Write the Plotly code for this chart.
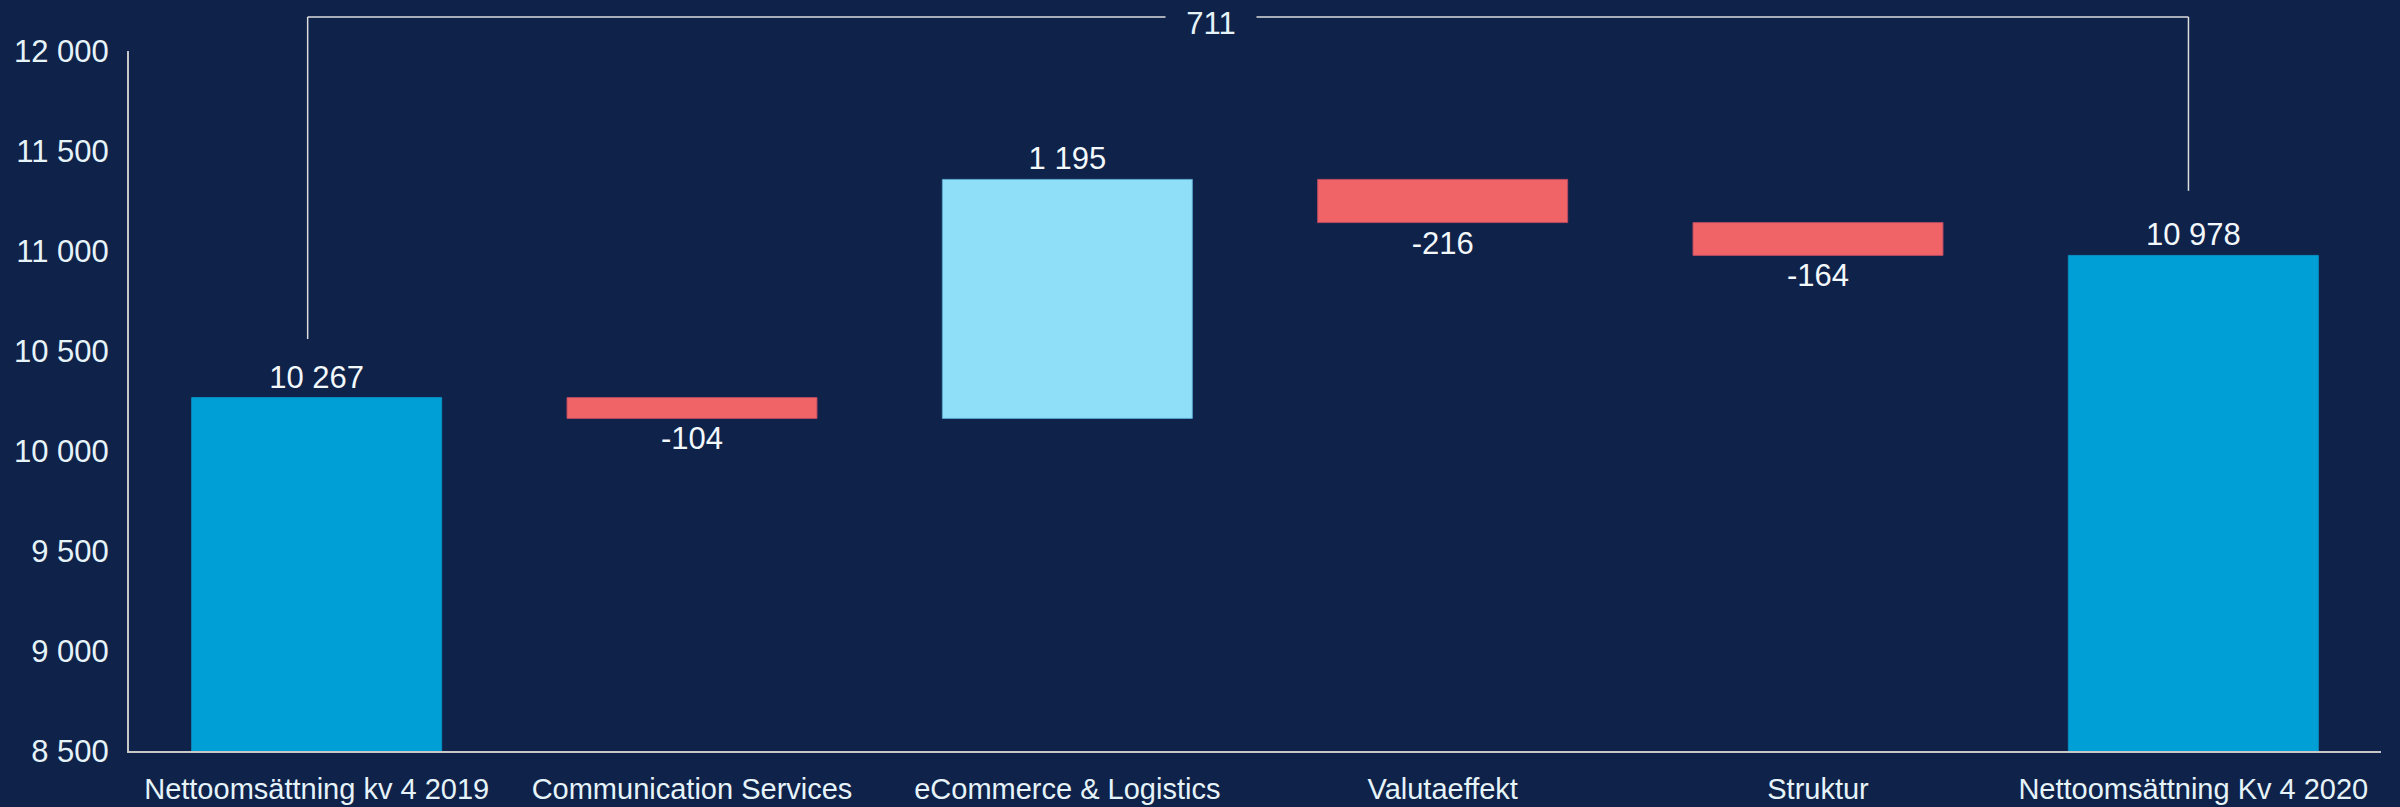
import plotly.graph_objects as go

# data
categories = ["Nettoomsättning kv 4 2019", "Communication Services", "eCommerce & Logistics",
              "Valutaeffekt", "Struktur", "Nettoomsättning Kv 4 2020"]
measures = ["absolute", "relative", "relative", "relative", "relative", "total"]
values = [10267, -104, 1195, -216, -164, 0]
labels = ["10 267", "-104", "1 195", "-216", "-164", "10 978"]
y_ticks = [8500, 9000, 9500, 10000, 10500, 11000, 11500, 12000]
start_total = 10267
end_total = 10978

X_RANGE = [-0.5, 5.5]
Y_RANGE = [8500, 12000]

BG = "#0f2249"
TXT = "#e6f4fa"
FONT = "Liberation Sans, Arial, sans-serif"

fig = go.Figure(go.Waterfall(
    x=categories,
    y=values,
    measure=measures,
    width=0.666,
    text=labels,
    textposition="outside",
    constraintext="none",
    cliponaxis=False,
    textfont=dict(size=31, color="#f2f8fc", family=FONT),
    totals=dict(marker=dict(color="#00a0d6", line=dict(color="#0b8fc2", width=1))),
    increasing=dict(marker=dict(color="#8fdff8", line=dict(color="#5aa6cc", width=1))),
    decreasing=dict(marker=dict(color="#f06468", line=dict(color="#b84a62", width=1))),
    connector=dict(visible=False),
    showlegend=False,
))


def px(xv):
    return (xv - X_RANGE[0]) / (X_RANGE[1] - X_RANGE[0])


def py(yv):
    return (yv - Y_RANGE[0]) / (Y_RANGE[1] - Y_RANGE[0])


# bracket showing the total change between the two quarters
x_left, x_right = px(-0.024), px(4.987)
y_top = 1.0486
y_left, y_right = py(start_total + 293), py(end_total + 323)
line = dict(color="#dcdcdc", width=1.5)
for x0, y0, x1, y1 in [(x_left, y_left, x_left, y_top),
                       (x_left, y_top, x_right, y_top),
                       (x_right, y_top, x_right, y_right)]:
    fig.add_shape(type="line", xref="paper", yref="paper",
                  x0=x0, y0=y0, x1=x1, y1=y1, line=line)

fig.add_annotation(
    x=px(2.384), y=y_top, xref="paper", yref="paper",
    xanchor="center", yanchor="middle", yshift=-7,
    text=f"{end_total - start_total}", showarrow=False,
    font=dict(size=31, color=TXT, family=FONT),
    bgcolor=BG, width=80, borderpad=5,
)

fig.update_layout(
    width=2400, height=807,
    paper_bgcolor=BG, plot_bgcolor=BG,
    font=dict(family=FONT, color=TXT),
    separators=", ",
    margin=dict(l=129, r=19, t=51, b=56),
    xaxis=dict(
        range=X_RANGE, type="category", automargin=False,
        showgrid=False, zeroline=False,
        showline=True, linecolor="#c8c8c8", linewidth=2,
        ticks="", tickfont=dict(size=29, color=TXT),
        ticklabelstandoff=11,
    ),
    yaxis=dict(
        range=Y_RANGE, tickvals=y_ticks, tickformat=",d", automargin=False,
        showgrid=False, zeroline=False,
        showline=True, linecolor="#c8c8c8", linewidth=2,
        ticks="", tickfont=dict(size=31, color=TXT),
        ticklabelstandoff=12,
    ),
)

fig.write_html("out.html", config={"displayModeBar": False},
               post_script=f"document.body.style.margin='0';"
                           f"document.body.style.background='{BG}';")
